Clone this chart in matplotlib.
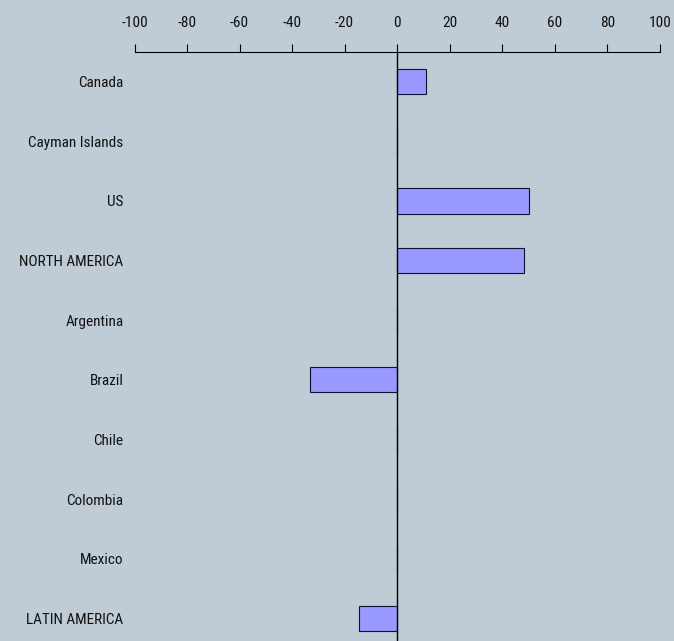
import matplotlib
matplotlib.use('Agg')
import os
import matplotlib.pyplot as plt
from matplotlib import font_manager

# Data
categories = ['Canada', 'Cayman Islands', 'US', 'NORTH AMERICA', 'Argentina',
              'Brazil', 'Chile', 'Colombia', 'Mexico', 'LATIN AMERICA']
values = [11.0, 0.0, 50.2, 48.3, 0.0, -33.3, 0.0, 0.0, 0.0, -14.6]
xticks = list(range(-100, 101, 20))

# look for a narrow/condensed sans face, like Arial Narrow in the reference
narrow = None
for f in font_manager.fontManager.ttflist:
    n = (f.name + ' ' + os.path.basename(f.fname)).lower()
    if 'mono' in n or 'serif' in n or 'bold' in n or 'italic' in n or 'oblique' in n:
        continue
    if f.style != 'normal':
        continue
    if 'narrow' in n or 'condensed' in n:
        narrow = f.fname
        if 'liberation' in n:
            break

if narrow:
    fp = font_manager.FontProperties(fname=narrow, size=11)
    fp_x = font_manager.FontProperties(fname=narrow, size=11)
else:
    fp = font_manager.FontProperties(family='Liberation Sans', size=10)
    fp_x = font_manager.FontProperties(family='Liberation Sans', size=10)

bg = '#bfcbd5'
fig = plt.figure(figsize=(6.74, 6.41), dpi=100, facecolor=bg)
ax = fig.add_axes([0.1996, 0.0, 0.979 - 0.1996, 0.919])
ax.set_facecolor(bg)

pos = list(range(len(categories)))
ax.barh(pos, values, height=0.42, color='#9999ff', edgecolor='#111133', linewidth=0.8, zorder=2)
ax.axvline(0, color='black', linewidth=1, zorder=3)

ax.set_xlim(-100, 100)
ax.set_ylim(9.38, -0.5)
ax.set_yticks(pos)
ax.set_yticklabels(categories, fontproperties=fp, color='#111111')
ax.tick_params(axis='y', length=0, pad=8)

ax.xaxis.tick_top()
ax.set_xticks(xticks)
ax.set_xticklabels([str(t) for t in xticks], fontproperties=fp_x, color='#111111')
ax.tick_params(axis='x', direction='out', length=6, width=0.8, pad=10)

for s in ['left', 'right', 'bottom']:
    ax.spines[s].set_visible(False)
ax.spines['top'].set_linewidth(0.8)

fig.savefig('out.png', dpi=100, facecolor=bg)
